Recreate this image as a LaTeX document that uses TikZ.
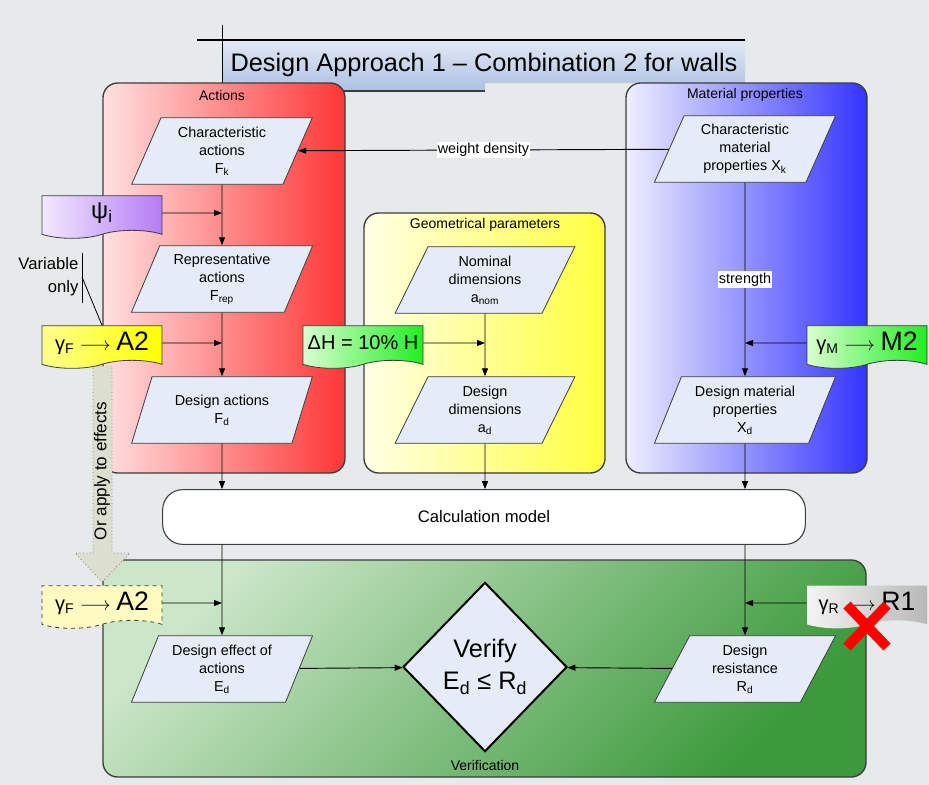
\documentclass[tikz,border=0pt]{standalone}
\usepackage{fontspec}
\setmainfont{Liberation Sans}
\usetikzlibrary{shapes.geometric,shapes.symbols,arrows.meta}

\definecolor{bgGray}{HTML}{E7EAEA}
\definecolor{boxBlue}{HTML}{E6ECF7}
\definecolor{lineGray}{HTML}{3C3C3C}
\definecolor{titleTop}{HTML}{E2E9F4}
\definecolor{titleBot}{HTML}{ADC1E2}
\definecolor{actLeft}{HTML}{FFE0E0}
\definecolor{actRight}{HTML}{FF3636}
\definecolor{matLeft}{HTML}{EEEEFF}
\definecolor{matRight}{HTML}{3434FF}
\definecolor{geoLeft}{HTML}{FFFFE6}
\definecolor{geoRight}{HTML}{FFFF3C}
\definecolor{verLight}{HTML}{CBE6C8}
\definecolor{verDark}{HTML}{3C9A3C}
\definecolor{psiLeft}{HTML}{F2E8FF}
\definecolor{psiRight}{HTML}{B47CF4}
\definecolor{flagGreen}{HTML}{22EE22}
\definecolor{flagLight}{HTML}{D8FFD0}
\definecolor{paleYellow}{HTML}{FFFBC0}
\definecolor{grayLeft}{HTML}{F4F4F4}
\definecolor{grayRight}{HTML}{B8B8B8}
\definecolor{effectArrow}{HTML}{DCDFCE}

% partial factor label: symbol, index, set
\newcommand\pfactor[3]{{\fontsize{15}{18}\selectfont #1\textsubscript{#2} $\longrightarrow$ }{\fontsize{20}{22}\selectfont #3}}

\begin{document}
\begin{tikzpicture}[x=0.75pt, y=-0.75pt,
  txt/.style={font=\fontsize{10.8}{13.5}\selectfont, align=center},
  paneltitle/.style={font=\fontsize{10.5}{12}\selectfont, inner sep=1pt},
  panel/.style={draw=lineGray, line width=1pt, rounded corners=11pt},
  databox/.style={txt, trapezium, trapezium left angle=67, trapezium right angle=113,
    trapezium stretches=true, draw=lineGray, line width=0.6pt, fill=boxBlue,
    minimum width=136pt, minimum height=50pt, inner sep=1pt},
  flag/.style={tape, tape bend top=none, tape bend bottom=in and out, tape bend height=6pt,
    draw=lineGray, line width=0.6pt, minimum width=90pt, minimum height=32pt, inner sep=1pt},
  link/.style={-{Triangle[length=6pt,width=4.5pt]}, line width=0.7pt},
]
\useasboundingbox (0,0) rectangle (929,785);
\fill[bgGray] (0,0) rectangle (929,785);

% title
\shade[top color=titleTop, bottom color=titleBot] (222,40) -- (745,40) -- (745,83) -- (485,83) -- (485,91) -- (222,91) -- cycle;
\draw[line width=1.8pt] (197,40) -- (745,40);
\draw[line width=0.7pt] (222,25) -- (222,91);
\draw[line width=1pt, lineGray] (222,91) -- (485,91);
\node[font=\fontsize{19}{22}\selectfont] (title) at (484,65) {Design Approach 1 -- Combination 2 for walls};

% panels
\draw[panel, left color=actLeft, right color=actRight] (103,83) rectangle (345,473);
\draw[panel, left color=geoLeft, right color=geoRight] (364,213) rectangle (605,473);
\draw[panel, left color=matLeft, right color=matRight] (626,83) rectangle (867,473);
\draw[panel, top color=verLight, bottom color=verDark, shading angle=45] (103,560) rectangle (866,777);
\node[paneltitle] (actions) at (222,95) {Actions};
\node[paneltitle] (geometry) at (485,225) {Geometrical parameters};
\node[paneltitle] (material) at (745,95) {Material properties};
\node[paneltitle] (verification) at (485,765) {Verification};

\node[draw=lineGray, line width=0.8pt, fill=white, rounded corners=15pt, minimum width=482pt,
  minimum height=41pt, font=\fontsize{12.5}{15}\selectfont] (calc) at (484,517) {Calculation model};

% data boxes
\node[databox] (fk) at (222,151) {Characteristic\\actions\\F\textsubscript{k}};
\node[databox] (frep) at (222,279) {Representative\\actions\\F\textsubscript{rep}};
\node[databox] (fd) at (222,410) {Design actions\\F\textsubscript{d}};
\node[databox] (anom) at (485,280) {Nominal\\dimensions\\a\textsubscript{nom}};
\node[databox] (ad) at (485,410) {Design\\dimensions\\a\textsubscript{d}};
\node[databox] (xk) at (745,149) {Characteristic\\material\\properties X\textsubscript{k}};
\node[databox] (xd) at (745,410) {Design material\\properties\\X\textsubscript{d}};
\node[databox] (ed) at (222,669) {Design effect of\\actions\\E\textsubscript{d}};
\node[databox] (rd) at (745,669) {Design\\resistance\\R\textsubscript{d}};
\node[diamond, draw=black, line width=1.5pt, fill=boxBlue, minimum width=123pt, minimum height=127pt,
  inner sep=0pt, align=center, font=\fontsize{19}{24}\selectfont] (verify) at (485,667)
  {Verify\\E\textsubscript{d} ≤ R\textsubscript{d}};

% connectors
\draw[link] (xk) -- node[txt, fill=white, inner sep=1pt]{weight density} (fk);
\draw[link] (fk) -- (frep);
\draw[link] (frep) -- (fd);
\draw[link] (fd) -- (fd |- calc.north);
\draw[link] (anom) -- (ad);
\draw[link] (ad) -- (ad |- calc.north);
\draw[link] (xk) -- node[txt, fill=white, inner sep=1pt]{strength} (xd);
\draw[link] (xd) -- (xd |- calc.north);
\draw[link] (calc.south -| ed) -- (ed);
\draw[link] (calc.south -| rd) -- (rd);
\draw[link] (rd) -- (verify);
\draw[link] (ed) -- (verify);

% or apply to effects
\draw[fill=effectArrow, draw=gray, dotted, line width=0.6pt] (93,366) -- (112,366) -- (112,553) -- (130,553)
  -- (102,582) -- (75,553) -- (93,553) -- cycle;
\node[rotate=90, font=\fontsize{12.8}{15}\selectfont] (applyfx) at (102,471) {Or apply to effects};

% partial factors
\node[flag, left color=psiLeft, right color=psiRight] (psi) at (102,213) {\fontsize{18}{20}\selectfont ψ\textsubscript{i}};
\node[flag, left color=yellow!45, right color=yellow] (gfa) at (102,343) {\pfactor{γ}{F}{A2}};
\node[flag, left color=flagLight, right color=flagGreen] (dh) at (363,343) {\fontsize{15}{18}\selectfont ΔH = 10\% H};
\node[flag, left color=flagLight, right color=flagGreen] (gm) at (867,343) {\pfactor{γ}{M}{M2}};
\node[flag, dashed, fill=paleYellow] (gfe) at (102,603) {\pfactor{γ}{F}{A2}};
\node[flag, draw=none, left color=grayLeft, right color=grayRight] (gr) at (867,603) {\pfactor{γ}{R}{R1}};
\draw[link] (psi) -- (psi -| fk);
\draw[link] (gfa) -- (gfa -| fk);
\draw[link] (dh) -- (dh -| anom);
\draw[link] (gm) -- (gm -| xk);
\draw[link] (gfe) -- (gfe -| ed);
\draw[link] (gr) -- (gr -| rd);
\draw[red, line width=7.5pt] (847,605) -- (887,647) (847,647) -- (887,605);

% variable only
\node[align=right, anchor=east, inner sep=1pt, font=\fontsize{12.5}{17}\selectfont] (varonly) at (80,277) {Variable\\only};
\draw[line width=0.6pt] (82,253) -- (82,303);
\draw[line width=0.6pt] (82,277) -- (gfa.north);
\end{tikzpicture}
\end{document}
